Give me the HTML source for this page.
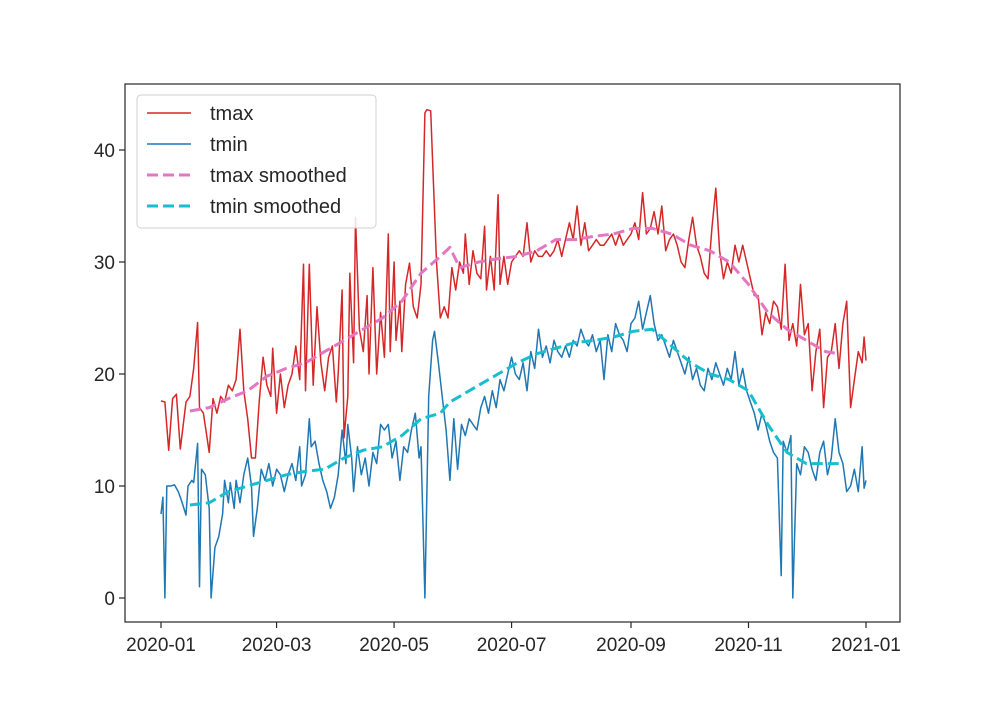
<!DOCTYPE html>
<html><head><meta charset="utf-8"><style>
body{margin:0;background:#fff}
svg{font-family:"Liberation Sans","DejaVu Sans",sans-serif}
</style></head><body>
<svg id="chart" width="1000" height="700">
<rect x="0" y="0" width="1000" height="700" fill="#fff"/>
<g id="plot"></g>
</svg>
<script>
const tmaxDays=[0,2,4,6,8,10,13,15,17,19,20,22,25,27,29,31,33,35,37,39,41,43,45,47,49,51,53,55,57,58,60,62,64,66,68,70,72,74,75,77,79,81,83,85,87,89,91,92,94,95,97,98,100,101,103,105,107,108,110,112,114,116,118,119,121,122,124,125,127,129,131,133,135,137,138,140,141,143,145,147,149,151,153,155,157,158,160,162,164,166,168,169,171,173,175,176,178,180,182,184,186,188,190,192,194,196,198,200,202,204,206,208,210,212,214,216,218,220,222,224,226,228,230,232,234,236,238,240,242,244,246,248,250,252,254,256,258,260,262,264,266,268,270,272,274,276,278,280,282,284,286,288,290,292,294,296,298,300,302,304,306,308,310,312,314,316,318,320,322,324,326,328,330,332,334,336,338,340,342,344,346,348,350,352,354,356,358,360,362,364,365,366];
const tmaxVals=[17.6,17.5,13.2,17.8,18.2,13.3,17.5,18.0,20.5,24.6,17.0,16.5,13.0,17.8,16.5,18.0,17.5,19.0,18.5,19.5,24.0,18.5,16.0,12.5,12.5,17.5,21.5,19.0,18.0,22.3,16.5,20.0,17.0,19.0,20.0,22.5,19.5,29.8,18.5,29.8,19.0,26.0,21.0,18.5,21.5,22.5,17.5,20.0,27.5,14.3,18.0,29.0,21.0,34.0,24.0,22.0,27.0,20.0,29.5,20.0,25.5,21.5,32.5,22.0,30.0,23.0,26.5,22.0,28.0,29.9,26.0,25.0,28.0,43.3,43.6,43.5,39.0,30.0,25.0,26.0,25.0,29.5,27.5,30.0,29.0,32.5,28.0,31.0,29.0,28.5,33.2,27.5,30.5,27.5,36.0,28.0,30.5,28.0,30.0,30.5,31.0,30.5,33.5,30.0,31.0,30.5,30.5,31.0,30.5,31.0,32.0,30.5,32.0,33.5,32.0,35.0,31.5,33.5,31.0,31.5,32.0,31.5,31.5,32.0,32.5,31.5,32.5,31.5,32.0,32.5,33.5,32.0,36.2,32.5,33.0,34.5,32.5,35.0,31.0,32.0,32.5,31.5,30.0,29.5,32.0,34.0,31.5,30.5,29.0,28.5,33.0,36.6,31.0,28.5,30.0,29.0,31.5,30.0,31.5,30.0,28.5,27.0,27.0,23.5,25.5,24.5,26.5,26.0,24.0,29.8,23.0,24.5,22.5,28.0,23.5,24.5,18.5,22.0,24.0,17.0,21.5,22.0,24.5,20.5,24.5,26.5,17.0,19.5,22.0,21.0,23.3,21.2];
const tminDays=[0,1,2,3,5,7,9,11,13,14,16,17,19,20,21,23,25,26,28,30,32,33,35,36,38,39,41,43,45,47,48,50,52,54,56,58,60,62,64,66,68,70,72,73,75,77,78,80,82,84,86,88,90,92,94,96,97,99,100,102,104,106,108,110,112,114,116,118,120,122,124,126,128,130,132,134,135,137,139,141,142,144,146,148,150,152,154,156,158,160,162,164,166,168,170,172,174,176,178,180,182,184,186,188,190,192,194,196,198,200,202,204,206,208,210,212,214,216,218,220,222,224,226,228,230,232,234,236,238,240,242,244,246,248,250,252,254,256,258,260,262,264,266,268,270,272,274,276,278,280,282,284,286,288,290,292,294,296,298,300,302,304,306,308,310,312,314,316,318,320,322,323,325,327,328,330,332,334,336,338,340,342,344,346,348,350,352,354,356,358,360,362,364,365,366];
const tminVals=[7.5,9.0,0,10,10,10.1,9.5,8.5,7.4,10.0,10.5,10.3,13.8,1.0,11.5,11.0,8.0,0,4.5,5.5,7.5,10.5,8.5,10.3,8.0,10.5,8.5,11.0,12.5,10.0,5.5,8.0,11.5,10.5,12.0,10.0,11.5,11.0,9.5,11.0,12.0,10.5,13.5,10.0,11.0,16.0,13.5,14.0,12.0,10.5,9.5,8.0,9.0,11.0,15.0,12.0,15.5,12.5,9.5,13.5,11.0,12.5,10.0,13.0,12.0,15.5,15.0,15.5,12.5,14.0,10.5,13.5,13.0,15.0,16.5,12.5,13.5,0,18.0,23.0,23.8,21.0,18.0,15.0,10.5,16.0,11.5,15.5,14.5,16.0,15.5,15.0,17.0,18.0,16.5,18.5,17.0,19.5,18.5,20.0,21.5,20.0,19.5,21.0,18.5,22.0,20.5,24.0,21.5,22.5,21.0,23.0,22.0,21.5,22.5,21.5,23.0,22.5,24.0,23.0,22.5,23.5,22.0,23.0,19.5,23.5,22.0,24.5,23.5,23.0,22.0,24.5,25.0,26.5,24.0,25.5,27.0,24.5,23.0,23.5,22.5,21.5,23.0,22.0,21.0,20.0,21.5,19.5,20.5,19.0,18.5,20.5,19.5,21.0,20.0,19.0,20.5,19.5,22.0,19.0,20.5,18.5,17.5,16.5,15.0,16.5,15.5,14.0,13.0,12.5,2.0,14.0,13.0,14.5,0,12.0,11.0,13.5,13.0,11.5,10.5,13.0,14.0,11.0,12.5,16.0,13.0,12.0,9.5,10.0,11.5,9.5,13.5,9.8,10.5];
const smDays=[15,25,35,45,55,65,75,85,95,105,115,125,135,145,150,155,165,175,185,195,205,215,225,235,245,255,265,275,285,295,305,315,325,335,345,352];
const tmaxSmooth=[16.7,17.0,17.8,18.5,19.8,20.5,21.0,22.0,23.0,24.0,25.0,26.5,29.0,30.5,31.3,29.5,30.0,30.3,30.5,31.0,32.0,32.0,32.3,32.5,33.0,33.0,32.5,31.5,31.0,30.0,28.0,25.5,24.0,23.0,22.0,21.8];
const tminSmooth=[8.3,8.5,9.5,10.0,10.5,11.0,11.3,11.5,12.5,13.2,13.5,14.5,16.0,16.5,17.5,18.0,19.0,20.0,21.0,21.8,22.3,22.8,23.0,23.3,23.8,24.0,22.5,21.0,20.0,19.5,18.5,15.5,13.0,12.0,12.0,12.0];
const yTicks=[0,10,20,30,40];
const xTickLabels=["2020-01","2020-03","2020-05","2020-07","2020-09","2020-11","2021-01"];
const xTickDays=[0,60,121,182,244,305,366];

const NS="http://www.w3.org/2000/svg";
const g=document.getElementById('plot');
const L=125,R=900,T=84,B=622;
const xs=d=>161+d*(705/366);
const ys=v=>598-v*11.2;
function mk(tag,attrs,parent){const e=document.createElementNS(NS,tag);for(const k in attrs)e.setAttribute(k,attrs[k]);(parent||g).appendChild(e);return e;}
function line(days,vals,color,w,dash,name){
  const p=mk('path',{d:days.map((d,i)=>(i?'L':'M')+xs(d).toFixed(1)+','+ys(vals[i]).toFixed(1)).join(''),fill:'none',stroke:color,'stroke-width':w,'stroke-dasharray':dash||'none','stroke-linejoin':'round'});
  
  
}
line(tmaxDays,tmaxVals,'#d62728',1.5,null,'tmax-line');
line(tminDays,tminVals,'#1f77b4',1.5,null,'tmin-line');
line(smDays,tmaxSmooth,'#e377c2',3,'11,5','tmax-smoothed-line');
line(smDays,tminSmooth,'#17becf',3,'11,5','tmin-smoothed-line');
const fr=mk('rect',{x:L,y:T,width:R-L,height:B-T,fill:'none',stroke:'#262626','stroke-width':1.2});


yTicks.forEach(v=>{
  const y=ys(v);
  mk('line',{x1:L-6,x2:L,y1:y,y2:y,stroke:'#262626','stroke-width':1.2});
  const t=mk('text',{x:L-10,y:y+7,'text-anchor':'end','font-size':19,fill:'#262626'});
  t.textContent=v;
  
  
});
xTickDays.forEach((d,i)=>{
  const x=xs(d);
  mk('line',{x1:x,x2:x,y1:B,y2:B+6,stroke:'#262626','stroke-width':1.2});
  const t=mk('text',{x:x,y:B+29,'text-anchor':'middle','font-size':19,fill:'#262626'});
  t.textContent=xTickLabels[i];
  
  
});
const lg=mk('g',{});


mk('rect',{x:137,y:95,width:239,height:133,rx:4,fill:'#fff','fill-opacity':0.85,stroke:'#d0d0d0'},lg);
const items=[['tmax','#d62728',1.5,null],['tmin','#1f77b4',1.5,null],['tmax smoothed','#e377c2',3,'11,5'],['tmin smoothed','#17becf',3,'11,5']];
items.forEach((it,i)=>{
  const y=113+i*31;
  const e=mk('g',{},lg);
  
  
  mk('line',{x1:147,x2:191,y1:y,y2:y,stroke:it[1],'stroke-width':it[2],'stroke-dasharray':it[3]||'none'},e);
  const t=mk('text',{x:210,y:y+7,'font-size':20,fill:'#262626'},e);
  t.textContent=it[0];
});
</script>
</body></html>
